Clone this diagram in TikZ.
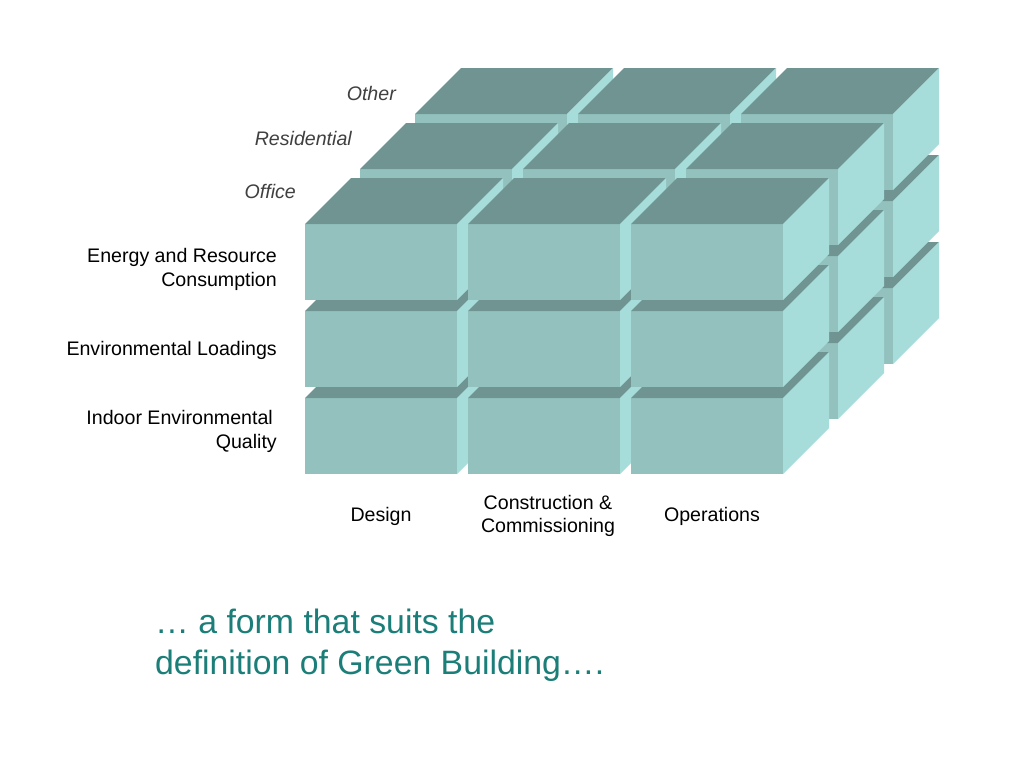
\documentclass[tikz,border=0pt]{standalone}
\usepackage{fontspec}
\setmainfont{Liberation Sans}
\definecolor{gbfront}{RGB}{147,194,190}
\definecolor{gbtop}{RGB}{111,148,146}
\definecolor{gbside}{RGB}{166,220,218}
\definecolor{gbtext}{RGB}{28,126,121}
\definecolor{gblayer}{RGB}{64,64,64}
\begin{document}
\begin{tikzpicture}[x=1pt,y=-1pt,
    frontface/.style={fill=gbfront},
    topface/.style={fill=gbtop},
    sideface/.style={fill=gbside},
    rowlabel/.style={anchor=east,align=right,inner sep=0pt,
        font=\fontsize{19.6}{24}\selectfont},
    collabel/.style={align=center,inner sep=0pt,
        font=\fontsize{19.6}{23}\selectfont},
    layerlabel/.style={anchor=east,inner sep=0pt,text=gblayer,
        font=\fontsize{19.6}{23}\selectfont\itshape}]
    \useasboundingbox[fill=white] (0,0) rectangle (1024,768);
    %% boxes, back layer first
    \foreach \k in {2,1,0} {
        \foreach \j in {2,1,0} {
            \foreach \i in {0,1,2} {
                \pgfmathsetmacro\bx{305+163*\i+55*\k}
                \pgfmathsetmacro\by{224+87*\j-55*\k}
                \fill[frontface] (\bx,\by) rectangle ++(152,76);
                \fill[topface] (\bx,\by) -- ++(46,-46) -- ++(152,0) -- ++(-46,46) -- cycle;
                \fill[sideface] (\bx+152,\by) -- ++(46,-46) -- ++(0,76) -- ++(-46,46) -- cycle;
            }
        }
    }
    %% layers
    \node[layerlabel] (other) at (396,93) {Other};
    \node[layerlabel] (residential) at (352,138) {Residential};
    \node[layerlabel] (office) at (296,191) {Office};
    %% rows
    \node[rowlabel] (energy) at (277,269) {Energy and Resource\\Consumption};
    \node[rowlabel] (loadings) at (277,350) {Environmental Loadings};
    \node[rowlabel] (indoor) at (277,431) {Indoor Environmental\hspace*{4pt}\\Quality};
    %% columns
    \node[collabel] (design) at (381,516) {Design};
    \node[collabel] (construction) at (548,516) {Construction \&\\Commissioning};
    \node[collabel] (operations) at (712,516) {Operations};
    %% caption
    \node[anchor=west,align=left,inner sep=0pt,text=gbtext,
        font=\fontsize{33.8}{41}\selectfont] (caption) at (155,645)
        {… a form that suits the\\definition of Green Building….};
\end{tikzpicture}
\end{document}
